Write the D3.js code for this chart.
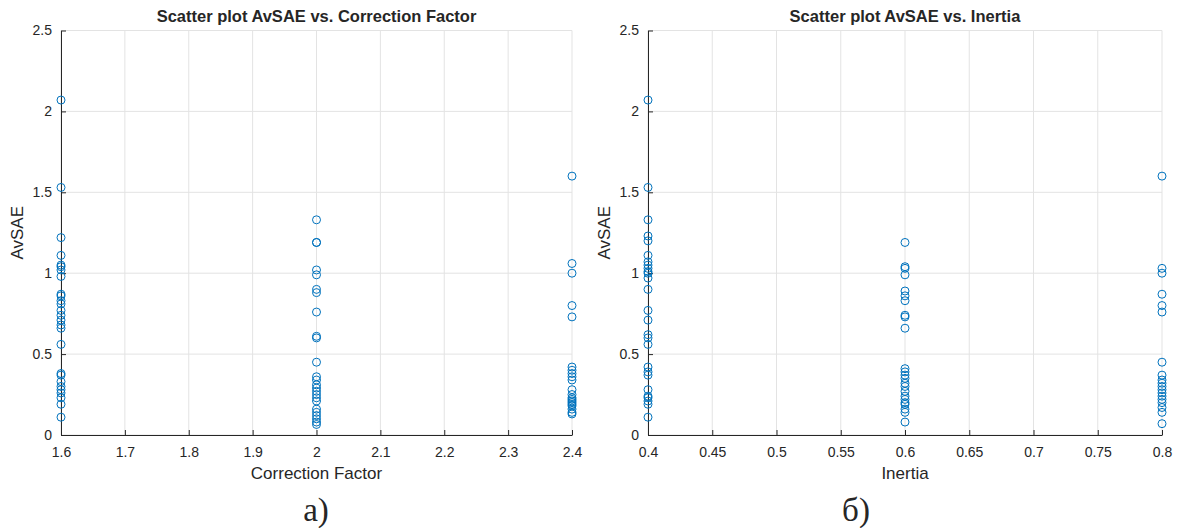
<!DOCTYPE html>
<html>
<head>
<meta charset="utf-8">
<script src="https://cdn.jsdelivr.net/npm/d3@7"></script>
<style>
  html, body { margin: 0; padding: 0; background: #fff; }
  svg { display: block; }
  text { font-family: "Liberation Sans", Arial, Helvetica, sans-serif; fill: #262626; }
</style>
</head>
<body>
<svg id="chart" width="1178" height="528"></svg>
<script>
// AvSAE results grouped by correction factor
const cfLevels = [1.6, 2.0, 2.4];
const avsaeCF16 = [2.07, 1.53, 1.22, 1.11, 1.05, 1.04, 1.02, 0.98, 0.87, 0.86, 0.83, 0.81, 0.77, 0.74, 0.71, 0.68, 0.66, 0.56, 0.38, 0.37, 0.33, 0.30, 0.28, 0.26, 0.23, 0.19, 0.11];
const avsaeCF20 = [1.33, 1.19, 1.19, 1.02, 0.99, 0.90, 0.88, 0.76, 0.61, 0.60, 0.45, 0.36, 0.34, 0.31, 0.29, 0.27, 0.25, 0.23, 0.21, 0.16, 0.14, 0.12, 0.10, 0.08, 0.065];
const avsaeCF24 = [1.60, 1.06, 1.00, 0.80, 0.73, 0.42, 0.40, 0.38, 0.36, 0.34, 0.28, 0.25, 0.23, 0.22, 0.21, 0.20, 0.19, 0.18, 0.16, 0.14, 0.13];

// AvSAE results grouped by inertia
const inertiaLevels = [0.4, 0.6, 0.8];
const avsaeIn04 = [2.07, 1.53, 1.33, 1.23, 1.20, 1.11, 1.07, 1.05, 1.03, 1.01, 1.00, 0.97, 0.90, 0.77, 0.71, 0.62, 0.60, 0.56, 0.42, 0.39, 0.37, 0.28, 0.24, 0.23, 0.21, 0.19, 0.11];
const avsaeIn06 = [1.19, 1.04, 1.03, 0.99, 0.89, 0.86, 0.83, 0.74, 0.73, 0.66, 0.41, 0.39, 0.37, 0.35, 0.32, 0.30, 0.27, 0.24, 0.22, 0.20, 0.19, 0.16, 0.14, 0.08];
const avsaeIn08 = [1.60, 1.03, 1.00, 0.87, 0.80, 0.76, 0.45, 0.37, 0.34, 0.32, 0.30, 0.28, 0.26, 0.24, 0.22, 0.20, 0.17, 0.14, 0.07];

// Axis ticks
const yTicks = [0, 0.5, 1, 1.5, 2, 2.5];
const cfTicks = [1.6, 1.7, 1.8, 1.9, 2.0, 2.1, 2.2, 2.3, 2.4];
const inertiaTicks = [0.4, 0.45, 0.5, 0.55, 0.6, 0.65, 0.7, 0.75, 0.8];

const svg = d3.select("#chart");
const axisColor = "#262626";
const gridColor = "#e3e3e3";
const markerColor = "#0072BD";

function panel(opts) {
  const { left, right, top, bottom, xDomain, xTicks, xFormat, groups, title, xLabel, caption, captionX } = opts;
  const x = d3.scaleLinear().domain(xDomain).range([left, right]);
  const y = d3.scaleLinear().domain([0, 2.5]).range([bottom, top]);
  const g = svg.append("g");

  // grid
  g.append("g").selectAll("line").data(xTicks).join("line")
    .attr("x1", d => x(d)).attr("x2", d => x(d))
    .attr("y1", top).attr("y2", bottom)
    .attr("stroke", gridColor).attr("stroke-width", 1);
  g.append("g").selectAll("line").data(yTicks).join("line")
    .attr("x1", left).attr("x2", right)
    .attr("y1", d => y(d)).attr("y2", d => y(d))
    .attr("stroke", gridColor).attr("stroke-width", 1);

  // axes with inward ticks
  const xAxis = d3.axisBottom(x).tickValues(xTicks).tickFormat(xFormat)
    .tickSizeInner(-5).tickSizeOuter(0).tickPadding(12);
  const yAxis = d3.axisLeft(y).tickValues(yTicks).tickFormat(d3.format("~g"))
    .tickSizeInner(-5).tickSizeOuter(0).tickPadding(12);

  const gx = g.append("g").attr("transform", `translate(0,${bottom})`).call(xAxis);
  const gy = g.append("g").attr("transform", `translate(${left},0)`).call(yAxis);
  [gx, gy].forEach(a => {
    a.select(".domain").attr("stroke", axisColor).attr("stroke-width", 1);
    a.selectAll(".tick line").attr("stroke", axisColor);
    a.selectAll(".tick text").attr("fill", axisColor)
      .style("font-size", "14px").style("font-family", "Liberation Sans, Arial, sans-serif");
  });
  gy.selectAll(".tick text").attr("dx", "3px");

  // markers
  groups.forEach(grp => {
    g.append("g").selectAll("circle").data(grp.values).join("circle")
      .attr("cx", x(grp.level)).attr("cy", d => y(d)).attr("r", 4)
      .attr("fill", "none").attr("stroke", markerColor).attr("stroke-width", 1);
  });

  // labels
  g.append("text").attr("x", (left + right) / 2).attr("y", 22)
    .attr("text-anchor", "middle").style("font-size", "16.5px").style("font-weight", "bold")
    .attr("fill", "#000").text(title);
  g.append("text").attr("x", (left + right) / 2).attr("y", 479)
    .attr("text-anchor", "middle").style("font-size", "17px").text(xLabel);
  g.append("text")
    .attr("transform", `translate(${left - 38},${(top + bottom) / 2}) rotate(-90)`)
    .attr("text-anchor", "middle").style("font-size", "17px").text("AvSAE");
  g.append("text").attr("x", captionX).attr("y", 521)
    .attr("text-anchor", "middle")
    .style("font-family", "Liberation Serif, 'Times New Roman', serif")
    .style("font-size", "33px").attr("fill", "#000").text(caption);
}

panel({
  left: 61, right: 572, top: 30.5, bottom: 435,
  xDomain: [1.6, 2.4], xTicks: cfTicks, xFormat: d3.format("~g"),
  groups: cfLevels.map((lv, i) => ({ level: lv, values: [avsaeCF16, avsaeCF20, avsaeCF24][i] })),
  title: "Scatter plot AvSAE vs. Correction Factor",
  xLabel: "Correction Factor",
  caption: "а)", captionX: 316
});

panel({
  left: 648, right: 1162, top: 30.5, bottom: 435,
  xDomain: [0.4, 0.8], xTicks: inertiaTicks, xFormat: d3.format("~g"),
  groups: inertiaLevels.map((lv, i) => ({ level: lv, values: [avsaeIn04, avsaeIn06, avsaeIn08][i] })),
  title: "Scatter plot AvSAE vs. Inertia",
  xLabel: "Inertia",
  caption: "б)", captionX: 856
});
</script>
</body>
</html>
